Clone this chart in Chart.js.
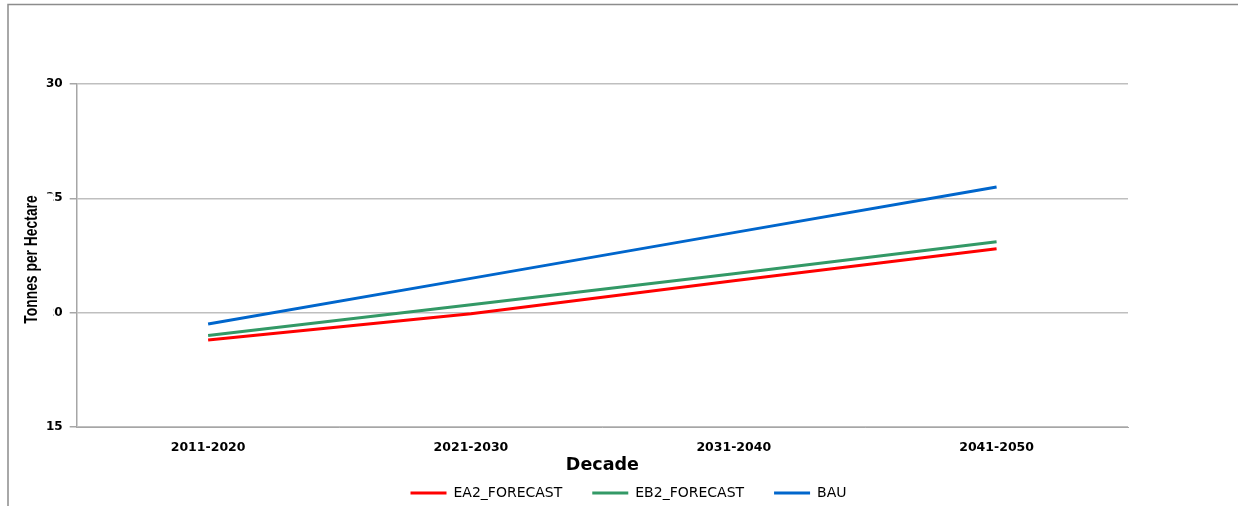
<!DOCTYPE html>
<html>
<head>
<meta charset="utf-8">
<script src="https://cdn.jsdelivr.net/npm/chart.js@4/dist/chart.umd.min.js"></script>
<style>
  html, body { margin: 0; padding: 0; background: #fff; }
  #wrap { width: 1238px; height: 506px; position: relative; }
</style>
</head>
<body>
<div id="wrap"><canvas id="c"></canvas></div>
<script>
const decades = ["2011-2020", "2021-2030", "2031-2040", "2041-2050"];
const ea2Forecast = [18.8, 19.95, 21.4, 22.8];
const eb2Forecast = [19.0, 20.35, 21.7, 23.1];
const bau = [19.5, 21.5, 23.5, 25.5];
const yTicks = [15, 20, 25, 30];

// outer frame (left + top edge) and the rotated y title with its white box
const framePlugin = {
  id: "frame",
  afterLayout(chart) {
    // legend sits a bit right of the plot centre and a little lower in the original
    const lg = chart.legend;
    lg.left += 45;
    lg.right += 45;
    lg.top += 4;
    lg.bottom += 4;
  },
  beforeDraw(chart) {
    const ctx = chart.ctx;
    ctx.save();
    ctx.fillStyle = "#fff";
    ctx.fillRect(0, 0, chart.width, chart.height);
    ctx.strokeStyle = "#8c8c8c";
    ctx.lineWidth = 1.5;
    ctx.beginPath();
    ctx.moveTo(8, chart.height);
    ctx.lineTo(8, 4.5);
    ctx.lineTo(chart.width, 4.5);
    ctx.stroke();
    ctx.restore();
  },
  afterDraw(chart) {
    const ctx = chart.ctx;
    const y = chart.scales.y;
    const cy = (y.getPixelForValue(25) + y.getPixelForValue(20)) / 2 + 4;
    ctx.save();
    ctx.fillStyle = "#fff";
    ctx.fillRect(21, cy - 66, 32, 130);
    ctx.translate(32, cy);
    ctx.rotate(-Math.PI / 2);
    ctx.scale(0.77, 1);
    ctx.fillStyle = "#000";
    ctx.font = "bold 18px 'Liberation Sans', Arial, sans-serif";
    ctx.textAlign = "center";
    ctx.textBaseline = "middle";
    ctx.fillText("Tonnes per Hectare", 0, 0);
    ctx.restore();
  }
};

new Chart(document.getElementById("c"), {
  type: "line",
  data: {
    labels: decades,
    datasets: [
      { label: "EA2_FORECAST", data: ea2Forecast, borderColor: "#ff0000", backgroundColor: "#ff0000", borderWidth: 3 },
      { label: "EB2_FORECAST", data: eb2Forecast, borderColor: "#339966", backgroundColor: "#339966", borderWidth: 3 },
      { label: "BAU", data: bau, borderColor: "#0066cc", backgroundColor: "#0066cc", borderWidth: 3 }
    ]
  },
  options: {
    responsive: true,
    maintainAspectRatio: false,
    animation: false,
    layout: { padding: { top: 84, right: 110, left: 39, bottom: 0 } },
    elements: {
      line: { tension: 0 },
      point: { radius: 0, hoverRadius: 0 }
    },
    scales: {
      x: {
        offset: true,
        grid: { display: false, drawTicks: false, tickLength: 0 },
        border: { display: true, color: "#a6a6a6", width: 1 },
        ticks: { color: "#000", font: { family: "DejaVu Sans", size: 12.5, weight: "bold" }, padding: 13, maxRotation: 0 },
        title: {
          display: true, text: "Decade", color: "#000",
          font: { family: "DejaVu Sans", size: 17.5, weight: "bold" },
          padding: { top: 0, bottom: -24 }
        },
        afterFit(scale) { scale.height = 25; }
      },
      y: {
        min: 15, max: 30,
        afterBuildTicks(axis) { axis.ticks = yTicks.map(v => ({ value: v })); },
        grid: { color: "#bfbfbf", lineWidth: 1.5, tickLength: 7, tickColor: "#a6a6a6" },
        border: { display: true, color: "#a6a6a6", width: 1.5 },
        ticks: { color: "#000", font: { family: "DejaVu Sans", size: 12, weight: "bold" }, padding: 7 }
      }
    },
    plugins: {
      legend: {
        position: "bottom",
        labels: {
          usePointStyle: true, pointStyle: "line", pointStyleWidth: 36, boxWidth: 36, boxHeight: 12,
          color: "#000", font: { family: "DejaVu Sans", size: 14 }, padding: 30
        }
      },
      tooltip: { enabled: false }
    }
  },
  plugins: [framePlugin]
});
</script>
</body>
</html>
